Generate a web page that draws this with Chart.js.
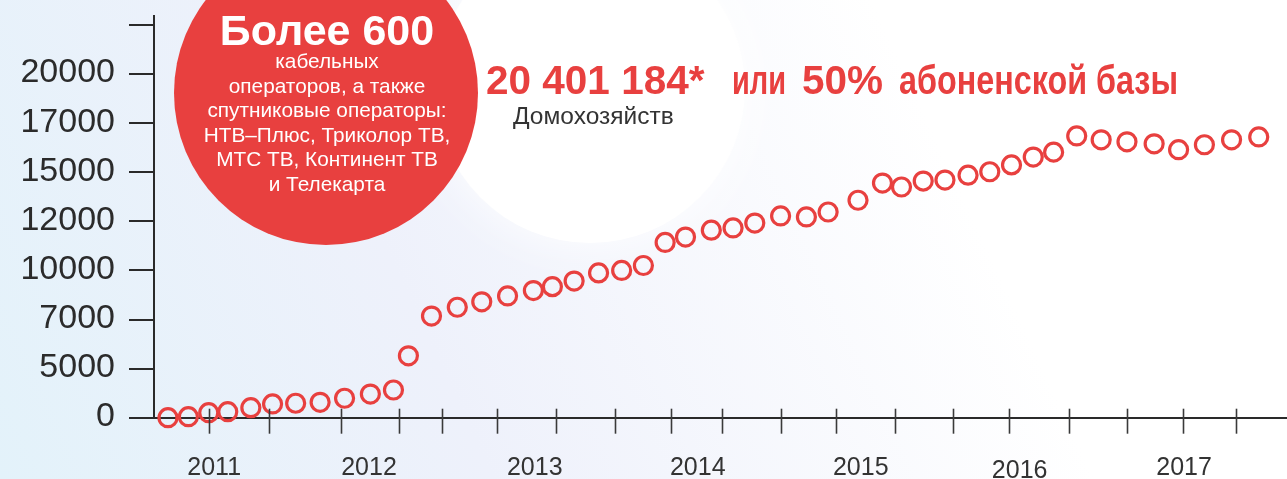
<!DOCTYPE html>
<html>
<head>
<meta charset="utf-8">
<script src="https://cdn.jsdelivr.net/npm/chart.js@4/dist/chart.umd.min.js"></script>
<style>
  html, body { margin: 0; padding: 0; background: #fff; }
  canvas { display: block; }
</style>
</head>
<body>
<canvas id="chart" width="1287" height="479"></canvas>
<script>
// Ось Y неравномерная: подписи стоят через равные промежутки
const yTickValues = [0, 5000, 7000, 10000, 12000, 15000, 17000, 20000];
const yTickLabels = ['0', '5000', '7000', '10000', '12000', '15000', '17000', '20000', ''];

// Годы и месяцы (от января 2011), где стоят подписи
const yearLabels = ['2011', '2012', '2013', '2014', '2015', '2016', '2017'];
const yearMonths = [3.4, 14.8, 27.0, 39.0, 51.0, 62.7, 74.8];

// Засечки на оси X
const tickMonths = [3.0, 7.4, 12.7, 17.0, 20.2, 24.2, 28.6, 32.9, 37.0, 40.8,
    45.1, 49.2, 53.5, 57.8, 61.9, 66.3, 70.6, 74.7, 78.6];

// Точки: месяц и число абонентов (тыс.)
const pointMonths = [0, 1.5, 3.0, 4.4, 6.1, 7.7, 9.4, 11.2, 13.0, 14.9,
    16.6, 17.7, 19.4, 21.3, 23.1, 25.0, 26.9, 28.3, 29.9, 31.7,
    33.4, 35.0, 36.6, 38.1, 40.0, 41.6, 43.2, 45.1, 47.0, 48.6,
    50.8, 52.6, 54.0, 55.6, 57.2, 58.9, 60.5, 62.1, 63.7, 65.2,
    66.9, 68.7, 70.6, 72.6, 74.4, 76.3, 78.3, 80.3];
const subscribers = [0, 100, 510, 610, 1020, 1400, 1470, 1570, 1980, 2410,
    2820, 5520, 7210, 7750, 8080, 8440, 8770, 9010, 9350, 9850,
    10000, 10200, 11140, 11360, 11640, 11730, 11930, 12330, 12270, 12570,
    13290, 14340, 14100, 14460, 14520, 14820, 15020, 15300, 15620, 15820,
    16480, 16320, 16240, 16160, 15920, 16120, 16320, 16440];

const RED = '#e8403f';
const DARK = '#2a2a2a';
const FONT = '"Liberation Sans", Arial, sans-serif';

// значение -> позиция на неравномерной оси
function toAxis(v) {
    for (let i = 0; i < yTickValues.length - 1; i++) {
        const a = yTickValues[i], b = yTickValues[i + 1];
        if (v <= b) return i + (v - a) / (b - a);
    }
    return yTickValues.length - 1;
}

const points = pointMonths.map((m, i) => ({ x: m, y: toAxis(subscribers[i]) }));

const backdrop = {
    id: 'backdrop',
    beforeDraw(chart) {
        const ctx = chart.ctx;
        const w = chart.width, h = chart.height;
        ctx.save();
        const g = ctx.createLinearGradient(0, h, 900, 60);
        g.addColorStop(0, '#e3f2fa');
        g.addColorStop(0.45, '#eef1fb');
        g.addColorStop(1, '#ffffff');
        ctx.fillStyle = g;
        ctx.fillRect(0, 0, w, h);

        // белый круг
        ctx.shadowColor = 'rgba(255,255,255,0.9)';
        ctx.shadowBlur = 40;
        ctx.fillStyle = '#ffffff';
        ctx.beginPath();
        ctx.arc(590, 88, 155, 0, Math.PI * 2);
        ctx.fill();
        ctx.shadowBlur = 0;

        // красный круг
        ctx.fillStyle = RED;
        ctx.beginPath();
        ctx.arc(326, 93, 152, 0, Math.PI * 2);
        ctx.fill();

        ctx.fillStyle = '#ffffff';
        ctx.textAlign = 'center';
        ctx.textBaseline = 'alphabetic';
        ctx.font = 'bold 43px ' + FONT;
        ctx.fillText('Более 600', 327, 45);
        ctx.font = '20.8px ' + FONT;
        const lines = ['кабельных', 'операторов, а также', 'спутниковые операторы:',
            'НТВ–Плюс, Триколор ТВ,', 'МТС ТВ, Континент ТВ', 'и Телекарта'];
        lines.forEach((t, i) => ctx.fillText(t, 327, 68 + i * 24.6));

        // заголовок, буквы в оригинале уже цифр
        ctx.textAlign = 'left';
        ctx.fillStyle = RED;
        ctx.font = 'bold 40.5px ' + FONT;
        ctx.fillText('20 401 184*', 486, 94, 228);
        ctx.fillText('или', 732, 94, 54);
        ctx.fillText('50%', 802, 94, 82);
        ctx.fillText('абоненской базы', 899, 94, 279);
        ctx.fillStyle = '#333333';
        ctx.font = '24.5px ' + FONT;
        ctx.fillText('Домохозяйств', 513, 124);
        ctx.restore();
    },
    afterDraw(chart) {
        const ctx = chart.ctx;
        const xs = chart.scales.x;
        const bottom = chart.chartArea.bottom;
        ctx.save();
        ctx.strokeStyle = '#3a3a3a';
        ctx.lineWidth = 1.6;
        tickMonths.forEach(m => {
            const px = Math.round(xs.getPixelForValue(m)) + 0.5;
            ctx.beginPath();
            ctx.moveTo(px, bottom - 9);
            ctx.lineTo(px, bottom + 16);
            ctx.stroke();
        });
        ctx.restore();
    }
};

new Chart(document.getElementById('chart'), {
    type: 'scatter',
    data: {
        datasets: [{
            data: points,
            showLine: false,
            pointStyle: 'circle',
            pointRadius: 9,
            pointBorderWidth: 3.2,
            pointBackgroundColor: 'rgba(0,0,0,0)',
            pointBorderColor: RED,
            clip: false
        }]
    },
    options: {
        responsive: false,
        animation: false,
        layout: { autoPadding: false, padding: { top: 16, left: 0, right: 0, bottom: 0 } },
        plugins: { legend: { display: false }, tooltip: { enabled: false } },
        scales: {
            x: {
                type: 'linear',
                min: -1.03,
                max: 82.38,
                afterFit(scale) {
                    scale.height = 61.3;
                    scale.paddingLeft = 0;
                    scale.paddingRight = 0;
                },
                afterBuildTicks(scale) { scale.ticks = yearMonths.map(v => ({ value: v })); },
                border: { color: DARK, width: 2 },
                grid: { display: true, drawOnChartArea: false, drawTicks: false, color: 'rgba(0,0,0,0)' },
                ticks: {
                    autoSkip: false,
                    maxRotation: 0,
                    padding: 35,
                    color: '#333333',
                    font: ctx => ({ family: FONT, size: 25, lineHeight: ctx.index === 5 ? 1.44 : 1.2 }),
                    callback: (v, i) => yearLabels[i]
                }
            },
            y: {
                type: 'linear',
                min: 0,
                max: 8.183,
                afterFit(scale) {
                    scale.width = 154;
                    scale.paddingTop = 0;
                    scale.paddingBottom = 0;
                },
                afterBuildTicks(scale) { scale.ticks = yTickLabels.map((l, i) => ({ value: i })); },
                border: { color: DARK, width: 2 },
                grid: { drawOnChartArea: false, drawTicks: true, tickLength: 25, color: DARK, lineWidth: 2 },
                ticks: {
                    padding: 14,
                    labelOffset: -1,
                    color: '#2b2b2b',
                    font: { family: FONT, size: 34 },
                    callback: (v, i) => yTickLabels[i]
                }
            }
        }
    },
    plugins: [backdrop]
});
</script>
</body>
</html>
